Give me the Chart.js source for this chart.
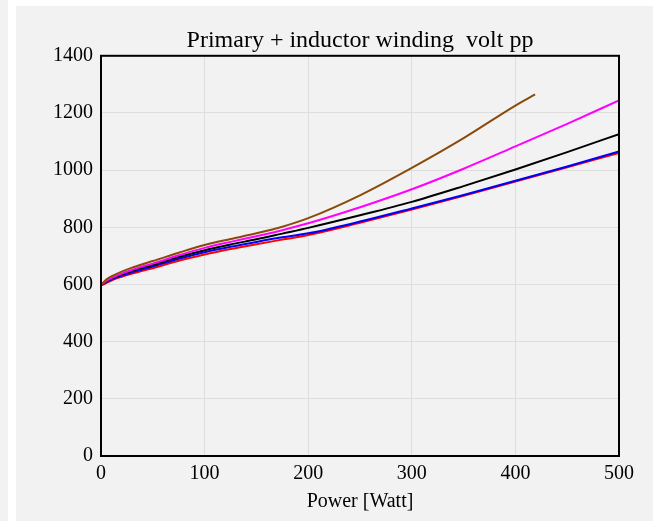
<!DOCTYPE html>
<html><head><meta charset="utf-8">
<script src="https://cdn.jsdelivr.net/npm/chart.js@4/dist/chart.umd.min.js"></script>
<style>
html,body{margin:0;padding:0;background:#fff;width:653px;height:521px;overflow:hidden;}
#strip{position:absolute;left:0;top:0;width:8px;height:521px;background:#f2f2f2;}
#panel{position:absolute;left:16px;top:6px;width:637px;height:515px;background:#f2f2f2;}
canvas{display:block;}
</style></head><body>
<div id="strip"></div>
<div id="panel"><canvas id="c" width="637" height="515"></canvas></div>
<script>
const titleText = "Primary + inductor winding  volt pp";
const xTitle = "Power [Watt]";
const power = [0, 5, 10, 20, 30, 40, 50, 75, 100, 125, 150, 175, 200, 250, 300, 350, 400, 450, 500];
const powerBrown = [0, 5, 10, 20, 30, 40, 50, 75, 100, 125, 150, 175, 200, 250, 300, 350, 400, 419];
const brownV = [598, 617, 628, 645, 659, 671, 682, 711, 738, 759, 779, 802, 832, 912, 1008, 1112, 1226, 1265];
const magentaV = [598, 612, 622, 638, 651, 663, 673, 702, 728, 749, 769, 790, 814, 870, 933, 1005, 1083, 1162, 1244];
const blackV = [598, 610, 620, 635, 647, 658, 668, 696, 720, 740, 758, 778, 798, 842, 889, 944, 1002, 1063, 1126];
const blueV = [598, 608, 617, 631, 643, 653, 663, 690, 713, 732, 749, 765, 779, 820, 866, 913, 963, 1013, 1065];
const redV = [596, 605, 614, 627, 638, 648, 657, 683, 705, 724, 741, 757, 773, 816, 862, 910, 960, 1010, 1060];

function pts(xs, ys){ return ys.map((y,i)=>({x:xs[i], y:y})); }
function ds(xs, ys, color){
  return {data: pts(xs, ys), borderColor: color, backgroundColor: color, borderWidth: 2,
    pointRadius: 0, cubicInterpolationMode: 'monotone', fill: false};
}
const frame = {
  id: 'frame',
  afterDraw(chart){
    const a = chart.chartArea, ctx = chart.ctx;
    ctx.save(); ctx.strokeStyle = '#000'; ctx.lineWidth = 2;
    ctx.strokeRect(a.left, a.top, a.right - a.left, a.bottom - a.top);
    ctx.restore();
  }
};
const font = {family: "'Liberation Serif', 'Times New Roman', serif", size: 20};
new Chart(document.getElementById('c'), {
  type: 'line',
  data: {datasets: [
    ds(powerBrown, brownV, '#8b4a0c'),
    ds(power, magentaV, '#ff00ff'),
    ds(power, blackV, '#000000'),
    ds(power, blueV, '#0000ff'),
    ds(power, redV, '#ff0000')
  ]},
  options: {
    responsive: false, animation: false,
    layout: {padding: {left: 0, right: 34, top: 0, bottom: 0}},
    plugins: {
      legend: {display: false}, tooltip: {enabled: false},
      title: {display: true, text: titleText, color: '#000', fullSize: false,
        font: {family: font.family, size: 24, weight: 'normal'}, padding: {top: 20, bottom: 1}}
    },
    scales: {
      x: {type: 'linear', min: 0, max: 500,
        ticks: {stepSize: 100, color: '#000', font: font, padding: 6, maxRotation: 0,
          callback: v => String(v)},
        grid: {color: '#dedede', drawTicks: false},
        border: {display: false},
        title: {display: true, text: xTitle, color: '#000', font: font, padding: {top: 2, bottom: 7}},
        afterFit(s){ s.height = 65; }
      },
      y: {type: 'linear', min: 0, max: 1400,
        ticks: {stepSize: 200, color: '#000', font: font, padding: 8, callback: v => String(v)},
        grid: {color: '#dedede', drawTicks: false},
        border: {display: false},
        afterFit(s){ s.width = 85; }
      }
    }
  },
  plugins: [frame]
});
</script>
</body></html>
